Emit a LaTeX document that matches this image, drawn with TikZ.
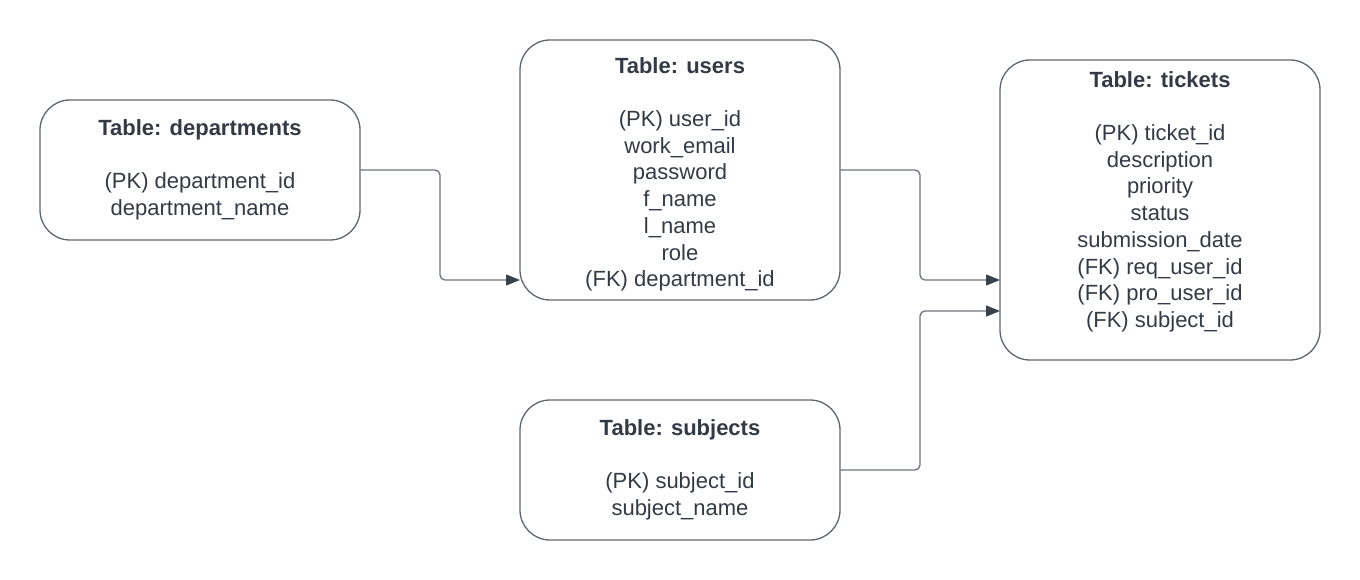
\documentclass[tikz,border=0pt]{standalone}
\usepackage{fontspec}
\setmainfont{Liberation Sans}
\usetikzlibrary{arrows.meta}
\definecolor{txt}{HTML}{333A45}
\definecolor{edge}{HTML}{5F6570}
\definecolor{conn}{HTML}{6E737C}
\definecolor{tip}{HTML}{3A414C}
\tikzset{
  tablebox/.style={draw=edge, line width=1.3pt, rounded corners=30pt, minimum width=320pt, outer sep=0pt, inner sep=0pt},
  tabletext/.style={anchor=north, align=center, inner sep=0pt, text=txt, font=\fontsize{22}{26.7}\selectfont},
  connector/.style={draw=conn, line width=1.3pt, rounded corners=5pt, -{Triangle[length=14pt,width=11pt,color=tip]}}
}
\begin{document}
\begin{tikzpicture}[x=1pt,y=-1pt]
\useasboundingbox (0,0) rectangle (1360,580);
\node[tablebox, minimum height=140pt] (dept) at (200,170) {};
\node[tablebox, minimum height=260pt] (users) at (680,170) {};
\node[tablebox, minimum height=300pt] (tickets) at (1160,210) {};
\node[tablebox, minimum height=140pt] (subj) at (680,470) {};
\node[tabletext] (depttext) at (200,119) {\bfseries Table: departments\\[26.7pt](PK) department\_id\\department\_name};
\node[tabletext] (userstext) at (680,57) {\bfseries Table: users\\[26.7pt](PK) user\_id\\work\_email\\password\\f\_name\\l\_name\\role\\(FK) department\_id};
\node[tabletext] (ticketstext) at (1160,71) {\bfseries Table: tickets\\[26.7pt](PK) ticket\_id\\description\\priority\\status\\submission\_date\\(FK) req\_user\_id\\(FK) pro\_user\_id\\(FK) subject\_id};
\node[tabletext] (subjtext) at (680,419) {\bfseries Table: subjects\\[26.7pt](PK) subject\_id\\subject\_name};
\draw[connector] (dept.east) -- ++(80,0) |- ([yshift=-110pt]users.west);
\draw[connector] (users.east) -- ++(80,0) |- ([yshift=-70pt]tickets.west);
\draw[connector] (subj.east) -- ++(80,0) |- ([yshift=-101pt]tickets.west);
\end{tikzpicture}
\end{document}
